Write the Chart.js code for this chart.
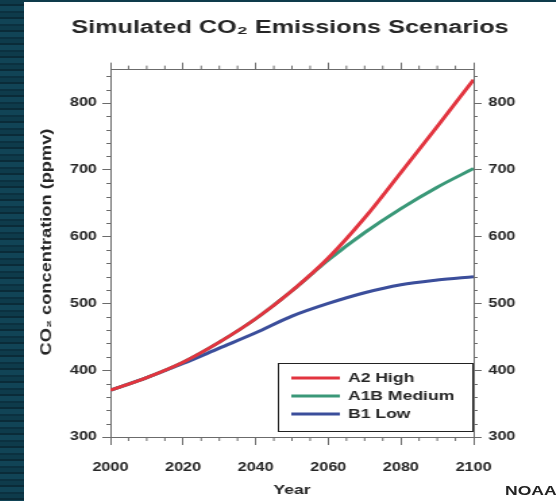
<!DOCTYPE html>
<html>
<head>
<meta charset="utf-8">
<script src="https://cdn.jsdelivr.net/npm/chart.js@4.4.1/dist/chart.umd.min.js"></script>
<style>
  html, body { margin: 0; padding: 0; }
  body {
    width: 556px; height: 501px; overflow: hidden; position: relative;
    background: repeating-linear-gradient(180deg,
      #0e3b4b 0px, #0e3b4b 4px, #0a2b38 4px, #0a2b38 6px,
      #114456 6px, #114456 11px, #0b3140 11px, #0b3140 13px);
  }
  #panel { position: absolute; left: 24px; top: 2px; width: 532px; height: 499px; background: #fff; overflow: hidden; }
  /* the source picture is stretched sideways, so is the canvas */
  #chart { position: absolute; left: 0; top: 0; transform: scaleX(1.35); transform-origin: 0 0; }
  #noaa {
    position: absolute; left: 481px; top: 481px; line-height: 15px;
    font: bold 13px "Liberation Sans", Arial, sans-serif; color: #222;
    transform: scaleX(1.35); transform-origin: 0 0;
  }
</style>
</head>
<body>
<div id="panel">
  <canvas id="chart" width="394" height="499"></canvas>
  <div id="noaa">NOAA</div>
</div>
<script>
// values (ppmv)
const years = [2000, 2010, 2020, 2030, 2040, 2050, 2060, 2070, 2080, 2090, 2100];
const a2High = [370, 389, 412, 442, 477, 519, 568, 628, 696, 765, 835];
const a1bMedium = [370, 389, 412, 442, 477, 519, 565, 606, 642, 674, 702];
const b1Low = [370, 389, 410, 433, 456, 481, 500, 516, 528, 535, 540];
const seriesNames = ['A2 High', 'A1B Medium', 'B1 Low'];
const yearTicks = [2000, 2020, 2040, 2060, 2080, 2100];
const ppmTicks = [300, 400, 500, 600, 700, 800];

const STRETCH = 1.35;
const family = '"Liberation Sans", Arial, Helvetica, sans-serif';
const axisColor = '#6b6b6b';
const textColor = '#262626';
const colors = ['#e2343f', '#3a9878', '#3b4e9b'];

const toPoints = vals => years.map((yr, i) => ({ x: yr, y: vals[i] }));

// minor ticks + y title + boxed legend
const extras = {
  id: 'extras',
  afterDraw(chart) {
    const { ctx, chartArea: a, scales } = chart;
    ctx.save();
    ctx.strokeStyle = axisColor;
    ctx.lineWidth = 1;
    ctx.beginPath();
    for (let v = 320; v < 850; v += 20) {
      if (v % 100 === 0) continue;
      const y = Math.round(scales.y.getPixelForValue(v)) + 0.5;
      ctx.moveTo(a.left - 3, y); ctx.lineTo(a.left, y);
      ctx.moveTo(a.right, y); ctx.lineTo(a.right + 3, y);
    }
    for (let yr = 2005; yr < 2100; yr += 5) {
      if (yr % 20 === 0) continue;
      const x = scales.x.getPixelForValue(yr);
      ctx.moveTo(x, a.bottom); ctx.lineTo(x, a.bottom + 4);
      ctx.moveTo(x, a.top); ctx.lineTo(x, a.top - 4);
    }
    ctx.stroke();

    // y title, stretched along its own reading direction
    ctx.save();
    ctx.translate(17, 240);
    ctx.scale(1 / STRETCH, 1);
    ctx.rotate(-Math.PI / 2);
    ctx.scale(STRETCH, 1);
    ctx.font = 'bold 13.5px ' + family;
    ctx.fillStyle = textColor;
    ctx.textAlign = 'center';
    ctx.textBaseline = 'middle';
    ctx.fillText('CO\u2082 concentration (ppmv)', 0, 0);
    ctx.restore();

    // legend box in the lower right corner
    const left = 188, top = 361, right = a.right, bottom = 430;
    ctx.fillStyle = '#fff';
    ctx.fillRect(left, top, right - left, bottom - top);
    ctx.strokeStyle = '#222';
    ctx.lineWidth = 1;
    ctx.strokeRect(left + 0.5, top + 0.5, right - left - 1, bottom - top - 1);
    ctx.font = 'bold 13px ' + family;
    ctx.textBaseline = 'middle';
    ctx.textAlign = 'left';
    chart.data.datasets.forEach((ds, i) => {
      const y = top + 15 + i * 18;
      ctx.strokeStyle = ds.borderColor;
      ctx.lineWidth = 3;
      ctx.beginPath();
      ctx.moveTo(left + 10, y); ctx.lineTo(left + 46, y);
      ctx.stroke();
      ctx.fillStyle = textColor;
      ctx.fillText(ds.label, left + 52, y);
    });
    ctx.restore();
  }
};

const tickFont = { family, size: 12, weight: 'bold' };
const yAxis = (position, pad) => ({
  type: 'linear', position, min: 300, max: 850,
  afterBuildTicks: s => { s.ticks = ppmTicks.map(v => ({ value: v })); },
  afterFit: s => { s.width = position === 'left' ? 64 : 61; },
  border: { display: true, color: axisColor, width: 1 },
  grid: { drawOnChartArea: false, drawTicks: true, tickLength: 6, color: axisColor },
  ticks: { padding: pad, color: textColor, font: tickFont, callback: v => String(v) }
});

new Chart(document.getElementById('chart'), {
  type: 'line',
  data: {
    datasets: [a2High, a1bMedium, b1Low].map((vals, i) => ({
      label: seriesNames[i],
      data: toPoints(vals),
      borderColor: colors[i],
      backgroundColor: colors[i],
      borderWidth: 3,
      pointRadius: 0,
      cubicInterpolationMode: 'monotone',
      xAxisID: 'x',
      yAxisID: 'y'
    }))
  },
  options: {
    responsive: false,
    animation: false,
    events: [],
    layout: { padding: 0 },
    plugins: {
      legend: { display: false },
      tooltip: { enabled: false },
      title: {
        display: true,
        text: 'Simulated CO\u2082 Emissions Scenarios',
        color: textColor,
        font: { family, size: 18.7, weight: 'bold' },
        padding: { top: 15, bottom: 10 }
      }
    },
    scales: {
      x: {
        type: 'linear', position: 'bottom', min: 2000, max: 2100,
        afterBuildTicks: s => { s.ticks = yearTicks.map(v => ({ value: v })); },
        afterFit: s => { s.height = 64; },
        border: { display: true, color: axisColor, width: 1 },
        grid: { drawOnChartArea: false, drawTicks: true, tickLength: 8, color: axisColor },
        ticks: { padding: 15, color: textColor, font: tickFont, maxRotation: 0, callback: v => String(v) },
        title: { display: true, text: 'Year', color: textColor, font: { family, size: 13, weight: 'bold' }, padding: { top: 0, bottom: 3 } }
      },
      xTop: {
        type: 'linear', position: 'top', min: 2000, max: 2100,
        afterBuildTicks: s => { s.ticks = yearTicks.map(v => ({ value: v })); },
        afterFit: s => { s.height = 20.2; },
        border: { display: true, color: axisColor, width: 1 },
        grid: { drawOnChartArea: false, drawTicks: true, tickLength: 7, color: axisColor },
        ticks: { display: false }
      },
      y: yAxis('left', 4),
      yRight: yAxis('right', 5)
    }
  },
  plugins: [extras]
});
</script>
</body>
</html>
